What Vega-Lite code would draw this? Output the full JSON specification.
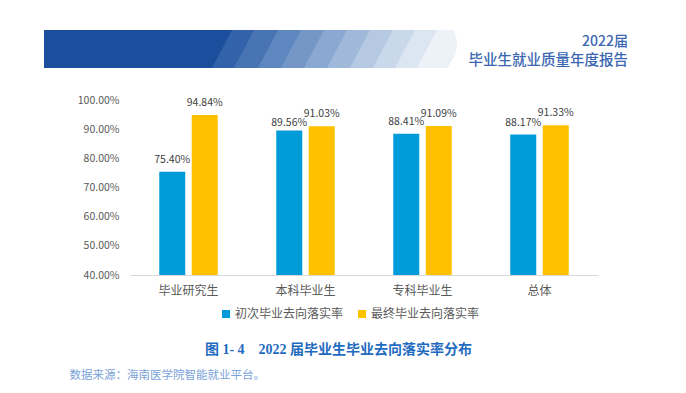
{
  "$schema": "https://vega.github.io/schema/vega-lite/v6.json",
  "width": 468,
  "height": 175,
  "autosize": "none",
  "padding": {"left": 130, "top": 100, "right": 88, "bottom": 118},
  "background": "white",
  "config": {"view": {"stroke": null}, "font": "Noto Sans CJK SC", "axis": {"grid": false}},
  "title": {
    "text": "2022届",
    "subtitle": "毕业生就业质量年度报告",
    "anchor": "end",
    "orient": "top",
    "frame": "group",
    "dx": 30,
    "offset": -37,
    "font": "Noto Sans CJK SC",
    "fontSize": 14,
    "fontWeight": 500,
    "color": "#3B67B2",
    "subtitleFont": "Noto Sans CJK SC",
    "subtitleFontSize": 14.5,
    "subtitleFontWeight": 500,
    "subtitleColor": "#3B67B2",
    "subtitlePadding": 5
  },
  "datasets": {
    "main": [
      {"c": "毕业研究生", "s": "初次毕业去向落实率", "v": 0.7540},
      {"c": "毕业研究生", "s": "最终毕业去向落实率", "v": 0.9484},
      {"c": "本科毕业生", "s": "初次毕业去向落实率", "v": 0.8956},
      {"c": "本科毕业生", "s": "最终毕业去向落实率", "v": 0.9103},
      {"c": "专科毕业生", "s": "初次毕业去向落实率", "v": 0.8841},
      {"c": "专科毕业生", "s": "最终毕业去向落实率", "v": 0.9109},
      {"c": "总体", "s": "初次毕业去向落实率", "v": 0.8817},
      {"c": "总体", "s": "最终毕业去向落实率", "v": 0.9133}
    ],
    "banner": [
      {"s": "s00", "h": 38, "l": 0, "r": 188.8},
      {"s": "s00", "h": 0, "l": 0, "r": 168.8},
      {"s": "s01", "h": 38, "l": 188, "r": 210.8},
      {"s": "s01", "h": 0, "l": 168, "r": 190.8},
      {"s": "s02", "h": 38, "l": 210, "r": 234.8},
      {"s": "s02", "h": 0, "l": 190, "r": 214.8},
      {"s": "s03", "h": 38, "l": 234, "r": 257.8},
      {"s": "s03", "h": 0, "l": 214, "r": 237.8},
      {"s": "s04", "h": 38, "l": 257, "r": 280.8},
      {"s": "s04", "h": 0, "l": 237, "r": 260.8},
      {"s": "s05", "h": 38, "l": 280, "r": 303.8},
      {"s": "s05", "h": 0, "l": 260, "r": 283.8},
      {"s": "s06", "h": 38, "l": 303, "r": 326.8},
      {"s": "s06", "h": 0, "l": 283, "r": 306.8},
      {"s": "s07", "h": 38, "l": 326, "r": 349.8},
      {"s": "s07", "h": 0, "l": 306, "r": 329.8},
      {"s": "s08", "h": 38, "l": 349, "r": 371.8},
      {"s": "s08", "h": 0, "l": 329, "r": 351.8},
      {"s": "s09", "h": 38, "l": 371, "r": 393.8},
      {"s": "s09", "h": 0, "l": 351, "r": 373.8},
      {"s": "s10", "h": 38, "l": 393, "r": 410},
      {"s": "s10", "h": 25, "l": 386.2, "r": 413.5},
      {"s": "s10", "h": 12, "l": 379.3, "r": 411},
      {"s": "s10", "h": 0, "l": 373, "r": 403}
    ]
  },
  "layer": [
    {
      "data": {"name": "banner"},
      "mark": {"type": "area", "orient": "horizontal", "interpolate": "linear", "clip": false},
      "encoding": {
        "y": {"field": "h", "type": "quantitative", "scale": {"domain": [-207, -32], "zero": false, "nice": false}, "axis": null},
        "x": {"field": "l", "type": "quantitative", "scale": {"domain": [86, 554], "zero": false, "nice": false}, "axis": null},
        "x2": {"field": "r"},
        "color": {
          "field": "s",
          "type": "nominal",
          "scale": {
            "domain": ["s00", "s01", "s02", "s03", "s04", "s05", "s06", "s07", "s08", "s09", "s10"],
            "range": ["#1B4F9E", "#3262A9", "#4874B4", "#5E86BF", "#7497C8", "#8AA8D1", "#A0B9DA", "#B6C9E3", "#CAD8EC", "#DCE5F2", "#EDF1F8"]
          },
          "legend": null
        }
      }
    },
    {
      "data": {"name": "main"},
      "encoding": {
        "x": {
          "field": "c",
          "type": "nominal",
          "sort": null,
          "scale": {"paddingInner": 0.5, "paddingOuter": 0.25},
          "axis": {
            "title": "图 1-\u00a04\u00a0\u00a0\u00a0\u00a02022 届毕业生毕业去向落实率分布",
            "labelFontSize": 12,
            "labelColor": "#595959",
            "labelPadding": 10,
            "labelAngle": 0,
            "ticks": false,
            "domainColor": "#D9D9D9",
            "titleX": 208,
            "titleY": 67,
            "titleBaseline": "top",
            "titleAlign": "center",
            "titleFont": "Liberation Serif, Noto Sans CJK SC",
            "titleFontSize": 14,
            "titleFontWeight": "bold",
            "titleColor": "#1F6BBF"
          }
        },
        "xOffset": {"field": "s", "type": "nominal", "sort": null, "scale": {"paddingInner": 0.2, "paddingOuter": 0}},
        "y": {
          "field": "v",
          "type": "quantitative",
          "scale": {"domain": [0.4, 1.0], "zero": false, "nice": false},
          "axis": {
            "values": [0.4, 0.5, 0.6, 0.7, 0.8, 0.9, 1.0],
            "format": ".2%",
            "labelFontSize": 10.5,
            "labelColor": "#595959",
            "labelPadding": 11,
            "ticks": false,
            "domain": false,
            "title": "数据来源：海南医学院智能就业平台。",
            "titleAngle": 0,
            "titleX": -61,
            "titleY": 275,
            "titleAlign": "left",
            "titleBaseline": "middle",
            "titleFont": "Noto Sans CJK SC",
            "titleFontSize": 11.5,
            "titleFontWeight": "normal",
            "titleColor": "#7AA3D8"
          }
        }
      },
      "layer": [
        {
          "mark": {"type": "bar"},
          "encoding": {
            "y2": {"datum": 0.4},
            "color": {
              "field": "s",
              "type": "nominal",
              "scale": {"domain": ["初次毕业去向落实率", "最终毕业去向落实率"], "range": ["#009BD9", "#FFC000"]},
              "legend": {
                "orient": "none",
                "legendX": 90,
                "legendY": 208,
                "direction": "horizontal",
                "title": null,
                "symbolType": "square",
                "symbolSize": 64,
                "symbolStrokeWidth": 0,
                "labelFontSize": 12,
                "labelColor": "#595959",
                "labelOffset": 3,
                "columnPadding": 12,
                "padding": 0
              }
            }
          }
        },
        {
          "transform": [{"filter": "!(datum.c === '本科毕业生' && datum.s === '初次毕业去向落实率')"}],
          "mark": {"type": "text", "dy": -9, "fontSize": 10.5, "color": "#404040", "baseline": "alphabetic"},
          "encoding": {"text": {"field": "v", "type": "quantitative", "format": ".2%"}}
        },
        {
          "transform": [{"filter": "datum.c === '本科毕业生' && datum.s === '初次毕业去向落实率'"}],
          "mark": {"type": "text", "dy": -4, "fontSize": 10.5, "color": "#404040", "baseline": "alphabetic"},
          "encoding": {"text": {"field": "v", "type": "quantitative", "format": ".2%"}}
        }
      ]
    }
  ],
  "resolve": {"scale": {"x": "independent", "y": "independent", "color": "independent"}}
}
